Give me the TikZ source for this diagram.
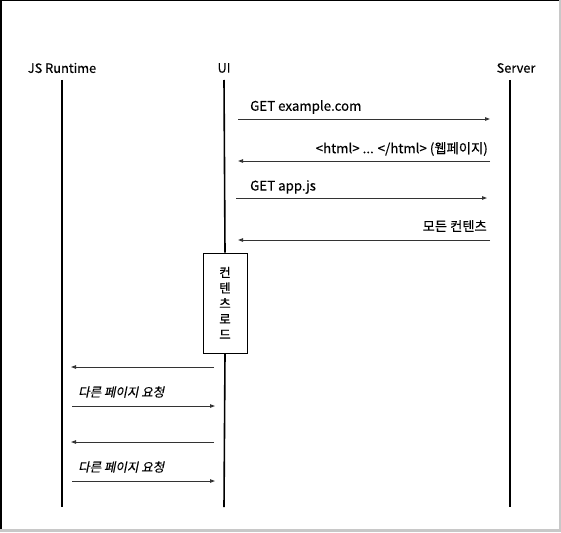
\documentclass[tikz,border=0pt]{standalone}
\usepackage{fontspec}
\setmainfont[FakeBold=0.35]{Noto Sans CJK KR}
\newfontfamily\slantfont[FakeSlant=0.2,FakeBold=0.35]{Noto Sans CJK KR}
\newfontfamily\boxfont[FakeBold=0.9]{Noto Sans CJK KR}
\usetikzlibrary{arrows.meta}
\definecolor{msgcol}{HTML}{333333}
\definecolor{framegray}{HTML}{C8C8C8}
\tikzset{
  actor/.style={inner sep=0pt, font=\fontsize{12.8}{14}\selectfont},
  lifeline/.style={line width=1.6pt, black},
  msg/.style={line width=0.9pt, msgcol, -{Triangle[length=5pt,width=3.5pt]}},
  msglabel/.style={inner sep=0pt, font=\fontsize{13.3}{14}\selectfont},
  italabel/.style={inner sep=0pt, font=\slantfont\fontsize{12.5}{14}\selectfont},
  actbox/.style={draw, line width=0.8pt, fill=white, minimum width=44pt, minimum height=100pt, inner sep=0pt, align=center, font=\boxfont\fontsize{12.5}{15.5}\selectfont}
}
\begin{document}
\begin{tikzpicture}[x=1pt,y=-1pt]
\useasboundingbox (0,0) rectangle (561,532);
% frame
\draw[black, line width=1.5pt] (0,0.75) -- (559,0.75);
\draw[black, line width=1.5pt] (0.75,0) -- (0.75,530);
\draw[framegray, line width=2pt] (560,0) -- (560,532);
\draw[framegray, line width=2.5pt] (0,530.5) -- (561,530.5);
% actors
\node[actor] (js) at (62,68) {JS Runtime};
\node[actor] (ui) at (224,68) {UI};
\node[actor] (srv) at (516,68) {Server};
% lifeline ends
\coordinate (jsT) at (62,80);
\coordinate (jsB) at (62,507);
\coordinate (uiT) at (224,80);
\coordinate (uiB) at (224,507);
\coordinate (srvT) at (510,80);
\coordinate (srvB) at (510,507);
% activation box
\node[actbox] (load) at (225,303) {컨\\텐\\츠\\로\\드};
% lifelines
\draw[lifeline] (jsT) -- (jsB);
\draw[lifeline] (uiT) -- (load.north);
\draw[lifeline] (load.south) -- (uiB);
\draw[lifeline] (srvT) -- (srvB);
% message ends
\coordinate (m1a) at (238,119); \coordinate (m1b) at (490,119);
\coordinate (m2a) at (490,161); \coordinate (m2b) at (238,161);
\coordinate (m3a) at (236,198); \coordinate (m3b) at (487,198);
\coordinate (m4a) at (490,240); \coordinate (m4b) at (238,240);
\coordinate (m5a) at (214,367); \coordinate (m5b) at (71,367);
\coordinate (m6a) at (72,406); \coordinate (m6b) at (215,406);
\coordinate (m7a) at (214,442); \coordinate (m7b) at (71,442);
\coordinate (m8a) at (72,481); \coordinate (m8b) at (215,481);
% messages
\draw[msg] (m1a) -- (m1b);
\draw[msg] (m2a) -- (m2b);
\draw[msg] (m3a) -- (m3b);
\draw[msg] (m4a) -- (m4b);
\draw[msg] (m5a) -- (m5b);
\draw[msg] (m6a) -- (m6b);
\draw[msg] (m7a) -- (m7b);
\draw[msg] (m8a) -- (m8b);
% labels
\node[msglabel, anchor=west] (l1) at (250,107) {GET example.com};
\node[msglabel, anchor=east] (l2) at (488,149) {<html> ... </html> (웹페이지)};
\node[msglabel, anchor=west] (l3) at (250,187) {GET app.js};
\node[msglabel, anchor=east] (l4) at (487,226) {모든 컨텐츠};
\node[italabel, anchor=west] (l6) at (78,392) {다른 페이지 요청};
\node[italabel, anchor=west] (l8) at (78,467) {다른 페이지 요청};
\end{tikzpicture}
\end{document}
